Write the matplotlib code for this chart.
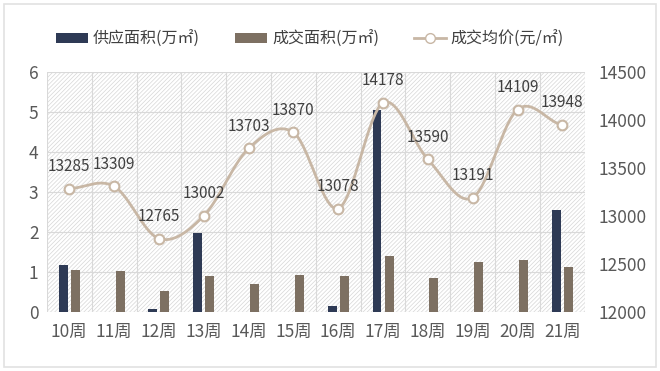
import matplotlib
matplotlib.use("Agg")
import matplotlib.pyplot as plt
import numpy as np
from matplotlib.patches import Rectangle

plt.rcParams["font.family"] = ["Noto Sans CJK SC", "DejaVu Sans"]
plt.rcParams["hatch.linewidth"] = 0.5
plt.rcParams["hatch.color"] = "#D6D6D6"

weeks = ["10周", "11周", "12周", "13周", "14周", "15周",
         "16周", "17周", "18周", "19周", "20周", "21周"]
supply = [1.17, 0, 0.08, 1.98, 0, 0, 0.14, 5.05, 0, 0, 0, 2.56]
deal = [1.06, 1.03, 0.53, 0.89, 0.71, 0.93, 0.91, 1.39, 0.84, 1.24, 1.29, 1.13]
price = [13285, 13309, 12765, 13002, 13703, 13870,
         13078, 14178, 13590, 13191, 14109, 13948]

NAVY = "#2E3A55"
TAUPE = "#7D7062"
TAN = "#C8B7A5"
GREY = "#595959"


def smooth(xs, ys, n=30):
    # Catmull-Rom path through the points, like Excel's smoothed line
    xs = np.asarray(xs, float)
    ys = np.asarray(ys, float)
    px = np.concatenate([[2 * xs[0] - xs[1]], xs, [2 * xs[-1] - xs[-2]]])
    py = np.concatenate([[ys[0]], ys, [ys[-1]]])
    ox, oy = [], []
    t = np.linspace(0, 1, n)
    for i in range(1, len(px) - 2):
        for p, out in ((px, ox), (py, oy)):
            p0, p1, p2, p3 = p[i - 1], p[i], p[i + 1], p[i + 2]
            out.extend(0.5 * ((2 * p1) + (-p0 + p2) * t
                              + (2 * p0 - 5 * p1 + 4 * p2 - p3) * t ** 2
                              + (-p0 + 3 * p1 - 3 * p2 + p3) * t ** 3))
    return np.array(ox), np.array(oy)


fig = plt.figure(figsize=(6.6, 3.71), dpi=100)
fig.patches.append(Rectangle((0.006, 0.012), 0.988, 0.976, transform=fig.transFigure,
                             fill=False, edgecolor="#E2E2E2", linewidth=1.2))
ax = fig.add_axes([0.071, 0.159, 0.815, 0.647])
ax2 = ax.twinx()

x = np.arange(len(weeks))
ax.add_patch(Rectangle((0, 0), 1, 1, transform=ax.transAxes, facecolor="white",
                       hatch="////////", edgecolor="#D6D6D6", linewidth=0, zorder=0))
w = 0.2
ax.bar(x - 0.135, supply, w, color=NAVY, zorder=3, label="供应面积(万㎡)")
ax.bar(x + 0.135, deal, w, color=TAUPE, zorder=3, label="成交面积(万㎡)")

ax.set_xlim(-0.5, len(weeks) - 0.5)
ax.set_ylim(0, 6)
ax.set_yticks(range(0, 7))
ax.set_xticks(x)
ax.set_xticklabels(weeks)
for v in range(0, 7):
    ax.axhline(v, color="#D9D9D9", linewidth=0.8, zorder=1)
for b in np.arange(-0.5, len(weeks), 1):
    ax.axvline(b, color="#D9D9D9", linewidth=0.8, zorder=1)
for a in (ax, ax2):
    for s in a.spines.values():
        s.set_visible(False)
    a.tick_params(length=0, colors=GREY, labelsize=12.5)
ax.tick_params(axis="x", pad=8)
ax.tick_params(axis="y", pad=6)

sx, sy = smooth(x, price)
ax2.plot(sx, sy, color=TAN, linewidth=2, zorder=4)
ax2.plot(x, price, linestyle="none", marker="o", markersize=7,
         markerfacecolor="white", markeredgecolor=TAN, markeredgewidth=1.5, zorder=5)
ax2.set_ylim(12000, 14500)
ax2.set_yticks(range(12000, 14501, 500))
ax2.tick_params(axis="y", pad=10)
for xi, p in zip(x, price):
    ax2.annotate(str(p), (xi, p), xytext=(0, 16), textcoords="offset points",
                 ha="center", va="center", fontsize=11, color="#404040", zorder=6)
ax.set_zorder(ax2.get_zorder() - 1)
ax.patch.set_visible(False)

h1, l1 = ax.get_legend_handles_labels()
lh = plt.Line2D([], [], color=TAN, linewidth=2, marker="o", markersize=7,
                markerfacecolor="white", markeredgecolor=TAN)
fig.legend(h1 + [lh], l1 + ["成交均价(元/㎡)"], loc="center", bbox_to_anchor=(0.47, 0.895),
           ncol=3, frameon=False, fontsize=11.5, handlelength=2.0, handleheight=0.6,
           handletextpad=0.3, columnspacing=2.2, labelcolor="#404040")

fig.savefig("out.png", dpi=100)
